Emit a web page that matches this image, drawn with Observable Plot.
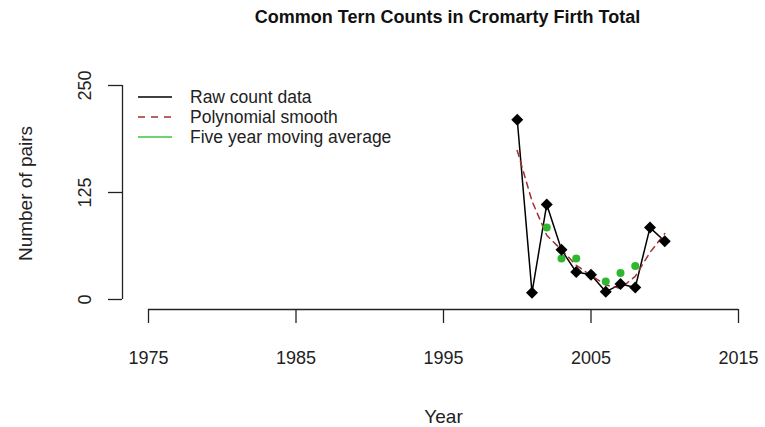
<!DOCTYPE html>
<html><head><meta charset="utf-8">
<script src="https://cdn.jsdelivr.net/npm/d3@7"></script>
<script src="https://cdn.jsdelivr.net/npm/@observablehq/plot@0.6"></script>
<style>
body{margin:0;background:#fff;font-family:"Liberation Sans",Arial,sans-serif;}
#wrap{position:relative;width:765px;height:427px;}
#legend{position:absolute;left:138px;top:87px;font-size:17.5px;color:#222;}
.row{display:flex;align-items:center;height:20px;}
.row svg{margin-right:18px;}
</style></head><body><div id="wrap"><div id="chart"></div><div id="legend"></div></div>
<script>
const titleText = "Common Tern Counts in Cromarty Firth Total";
const xLabel = "Year";
const yLabel = "Number of pairs";
const xTicks = [1975, 1985, 1995, 2005, 2015];
const yTicks = [0, 125, 250];
const years = [2000, 2001, 2002, 2003, 2004, 2005, 2006, 2007, 2008, 2009, 2010];
const rawCounts = [210, 8, 111, 58, 32, 29, 9, 18, 14, 84, 68];
const smoothCounts = [174, 115, 75, 58, 40, 28, 17, 13, 27, 55, 77];
const avgYears = [2002, 2003, 2004, 2005, 2006, 2007, 2008];
const avgCounts = [84, 48, 48, 29, 21, 31, 39];
const legendLabels = ["Raw count data", "Polynomial smooth", "Five year moving average"];
const legendColors = ["#000000", "#a03030", "#3cc43c"];
const legendDash = [null, "7,6", null];

const raw = years.map((y, i) => ({year: y, count: rawCounts[i]}));
const smooth = years.map((y, i) => ({year: y, count: smoothCounts[i]}));
const avg = avgYears.map((y, i) => ({year: y, count: avgCounts[i]}));

const chart = Plot.plot({
  width: 765, height: 427,
  marginLeft: 122, marginRight: 1, marginTop: 77, marginBottom: 118,
  style: {fontFamily: "'Liberation Sans', Arial, sans-serif", fontSize: "18px", color: "#222", background: "#fff"},
  x: {domain: [xTicks[0], xTicks[xTicks.length - 1]], insetLeft: 26, insetRight: 26, label: null},
  y: {domain: [yTicks[0], yTicks[yTicks.length - 1]], insetTop: 8, insetBottom: 10, label: null},
  marks: [
    Plot.axisX({ticks: xTicks, tickSize: 14, tickPadding: 28, fontSize: 18, tickFormat: d => String(d), label: null, strokeWidth: 1.3}),
    Plot.axisY({ticks: yTicks, tickSize: 14, tickPadding: 18, tickRotate: -90, fontSize: 18, label: null, strokeWidth: 1.3}),
    Plot.ruleY([yTicks[0]], {x1: xTicks[0], x2: xTicks[xTicks.length - 1], dy: 10, strokeWidth: 1.3}),
    Plot.ruleX([xTicks[0]], {y1: yTicks[0], y2: yTicks[yTicks.length - 1], dx: -26, strokeWidth: 1.3}),
    Plot.line(raw, {x: "year", y: "count", stroke: legendColors[0], strokeWidth: 1.5}),
    Plot.line(smooth, {x: "year", y: "count", stroke: legendColors[1], strokeWidth: 1.5, strokeDasharray: "6,5"}),
    Plot.dot(avg, {x: "year", y: "count", r: 4, fill: "#2fb82f"}),
    Plot.dot(raw, {x: "year", y: "count", symbol: "diamond2", r: 5.4, fill: "#000"}),
    Plot.text([xLabel], {frameAnchor: "bottom", dy: 113, fontSize: 19, lineAnchor: "bottom", textAnchor: "middle", fill: "#222"}),
    Plot.text([yLabel], {frameAnchor: "left", dx: -91, rotate: -90, fontSize: 19, lineAnchor: "bottom", textAnchor: "middle", fill: "#222"}),
    Plot.text([titleText], {frameAnchor: "top", dy: -55, dx: 4, fontSize: 18, fontWeight: "bold", lineAnchor: "bottom", textAnchor: "middle", fill: "#111"})
  ]
});
document.getElementById("chart").appendChild(chart);

const legend = document.getElementById("legend");
legendLabels.forEach((lab, i) => {
  const row = document.createElement("div");
  row.className = "row";
  row.innerHTML = `<svg width="34" height="20"><line x1="0" x2="34" y1="10" y2="10" stroke="${legendColors[i]}" stroke-width="1.5" ${legendDash[i] ? `stroke-dasharray="${legendDash[i]}"` : ""}/></svg><span>${lab}</span>`;
  legend.appendChild(row);
});
</script>
</body></html>
